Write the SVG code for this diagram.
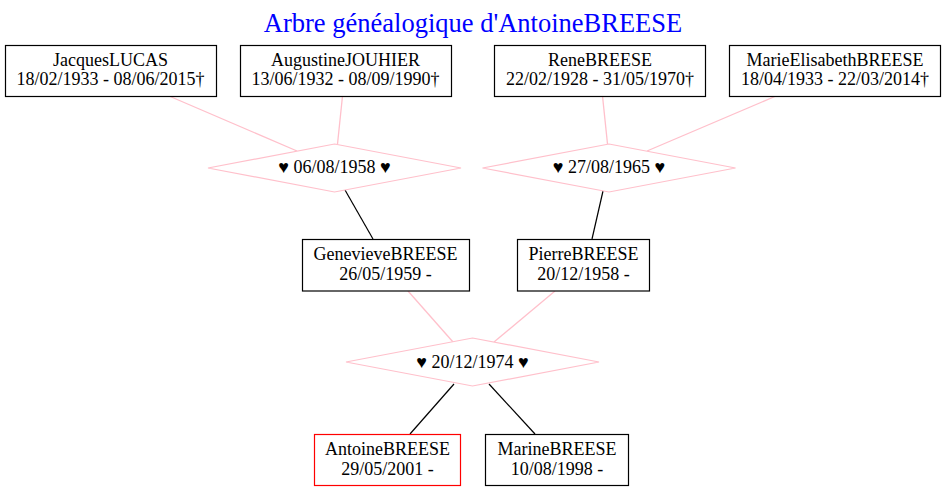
<svg xmlns="http://www.w3.org/2000/svg" width="945" height="491" viewBox="0 0 945 491">
  <style>
    .box { fill: #ffffff; stroke: #000000; stroke-width: 1.2; }
    .self { fill: #ffffff; stroke: #ff0000; stroke-width: 1.2; }
    .union { fill: #ffffff; stroke: #ffc0cb; stroke-width: 1.2; }
    .txt { font-family: "Liberation Serif", "Times New Roman", serif; font-size: 18px; fill: #000000; text-anchor: middle; }
    .title { font-family: "Liberation Serif", "Times New Roman", serif; font-size: 26.5px; fill: #0000ff; text-anchor: middle; }
    .spouse { stroke: #ffc0cb; stroke-width: 1.3; fill: none; }
    .child { stroke: #000000; stroke-width: 1.2; fill: none; }
  </style>
  <rect width="945" height="491" fill="#ffffff"/>
  <text class="title" x="473" y="32">Arbre généalogique d'AntoineBREESE</text>

  <!-- connectors -->
  <g id="edges">
    <line class="spouse" x1="169" y1="96" x2="297" y2="151"/>
    <line class="spouse" x1="342.5" y1="96" x2="337.5" y2="144"/>
    <line class="spouse" x1="602.5" y1="96" x2="607.5" y2="144"/>
    <line class="spouse" x1="776" y1="96" x2="647" y2="151"/>
    <line class="child" x1="345" y1="190" x2="373" y2="239"/>
    <line class="child" x1="603" y1="191" x2="592" y2="239"/>
    <line class="spouse" x1="408" y1="291" x2="453" y2="342"/>
    <line class="spouse" x1="555" y1="291" x2="494" y2="342"/>
    <line class="child" x1="454" y1="384" x2="410" y2="434"/>
    <line class="child" x1="489" y1="384" x2="535" y2="434"/>
  </g>

  <!-- grandparents -->
  <g id="jacques">
    <rect class="box" x="5.5" y="45.5" width="211" height="51"/>
    <text class="txt" x="110.5" y="66">JacquesLUCAS</text>
    <text class="txt" x="110.5" y="85">18/02/1933 - 08/06/2015†</text>
  </g>
  <g id="augustine">
    <rect class="box" x="240.5" y="45.5" width="211" height="51"/>
    <text class="txt" x="345.5" y="66">AugustineJOUHIER</text>
    <text class="txt" x="345.5" y="85">13/06/1932 - 08/09/1990†</text>
  </g>
  <g id="rene">
    <rect class="box" x="494.5" y="45.5" width="211" height="51"/>
    <text class="txt" x="600" y="66">ReneBREESE</text>
    <text class="txt" x="600" y="85">22/02/1928 - 31/05/1970†</text>
  </g>
  <g id="marie">
    <rect class="box" x="729.5" y="45.5" width="211" height="51"/>
    <text class="txt" x="835" y="66">MarieElisabethBREESE</text>
    <text class="txt" x="835" y="85">18/04/1933 - 22/03/2014†</text>
  </g>

  <!-- unions -->
  <g id="union1958">
    <polygon class="union" points="334.5,144 461,168 334.5,192 208,168"/>
    <text class="txt" x="334.5" y="173">♥ 06/08/1958 ♥</text>
  </g>
  <g id="union1965">
    <polygon class="union" points="609,144 735.5,168 609,192 482.5,168"/>
    <text class="txt" x="609" y="173">♥ 27/08/1965 ♥</text>
  </g>

  <!-- parents -->
  <g id="genevieve">
    <rect class="box" x="302.5" y="239.5" width="167" height="51.5"/>
    <text class="txt" x="385.5" y="260">GenevieveBREESE</text>
    <text class="txt" x="385.5" y="279.5">26/05/1959 -</text>
  </g>
  <g id="pierre">
    <rect class="box" x="517.5" y="239.5" width="132" height="51.5"/>
    <text class="txt" x="583.5" y="260">PierreBREESE</text>
    <text class="txt" x="583.5" y="279.5">20/12/1958 -</text>
  </g>

  <g id="union1974">
    <polygon class="union" points="472.5,338 599,362 472.5,386 346,362"/>
    <text class="txt" x="472.5" y="367.5">♥ 20/12/1974 ♥</text>
  </g>

  <!-- children -->
  <g id="antoine">
    <rect class="self" x="314.5" y="434.5" width="146" height="51"/>
    <text class="txt" x="387.5" y="455">AntoineBREESE</text>
    <text class="txt" x="387.5" y="474.5">29/05/2001 -</text>
  </g>
  <g id="marine">
    <rect class="box" x="485.5" y="434.5" width="143" height="51"/>
    <text class="txt" x="557" y="455">MarineBREESE</text>
    <text class="txt" x="557" y="474.5">10/08/1998 -</text>
  </g>
</svg>
